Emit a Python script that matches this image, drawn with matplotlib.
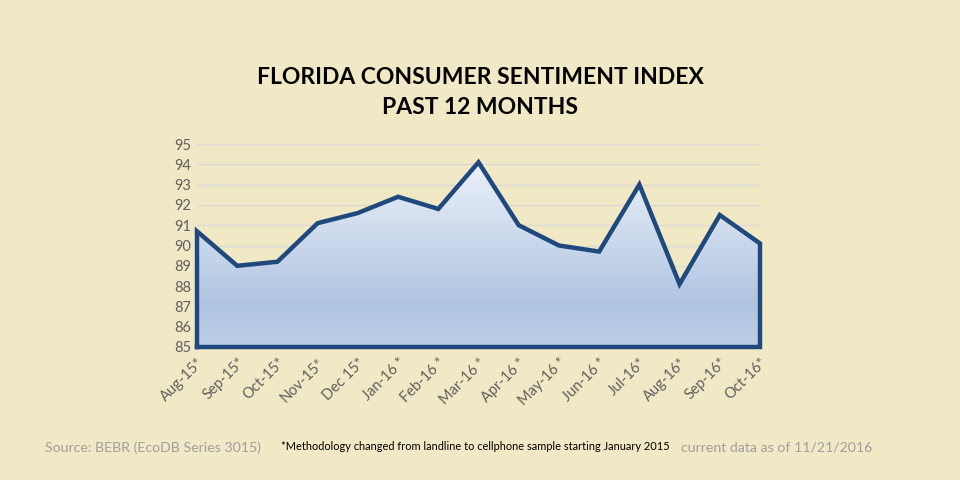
import matplotlib
matplotlib.use("Agg")
import matplotlib.pyplot as plt
import numpy as np
from matplotlib.colors import LinearSegmentedColormap
from matplotlib.patches import Polygon

months = ["Aug-15*", "Sep-15*", "Oct-15*", "Nov-15*", "Dec 15*", "Jan-16 *", "Feb-16 *",
          "Mar-16 *", "Apr-16 *", "May-16 *", "Jun-16 *", "Jul-16*", "Aug-16*", "Sep-16*", "Oct-16*"]
values = [90.7, 89.0, 89.2, 91.1, 91.6, 92.4, 91.8, 94.1, 91.0, 90.0, 89.7, 93.0, 88.1, 91.5, 90.1]
yticks = list(range(85, 96))

bg = "#F1E8C5"
line_color = "#1F497D"

plt.rcParams['font.family'] = ['Lato', 'DejaVu Sans']

fig = plt.figure(figsize=(9.6, 4.8), dpi=100, facecolor=bg)
ax = fig.add_axes([197/960, 1-347/480, (760-197)/960, (347-144)/480])
ax.set_facecolor(bg)

x = np.arange(len(values))
ax.set_xlim(0, len(values) - 1)
ax.set_ylim(85, 95)

# gradient fill
cmap = LinearSegmentedColormap.from_list("g", [(0.0, "#BDD0E8"), (0.2, "#AFC4E1"), (1.0, "#F3F6FC")])
grad = np.linspace(0, 1, 256).reshape(-1, 1)
im = ax.imshow(grad, aspect='auto', cmap=cmap, origin='lower',
               extent=[0, len(values) - 1, 85, 95], zorder=1)
verts = [(0, 85)] + list(zip(x, values)) + [(len(values) - 1, 85)]
poly = Polygon(verts, closed=True, facecolor='none', edgecolor='none', transform=ax.transData)
ax.add_patch(poly)
im.set_clip_path(poly)

ax.grid(axis='y', color='#D9D9D9', linewidth=1, zorder=0)
ax.set_axisbelow(True)
ax.plot(np.concatenate([[0], x, [len(values) - 1], [0]]),
        np.concatenate([[85], values, [85], [85]]),
        color=line_color, linewidth=3.2, solid_joinstyle='miter', zorder=3, clip_on=False)

for s in ax.spines.values():
    s.set_visible(False)
ax.set_yticks(yticks)
ax.set_yticklabels([str(t) for t in yticks], fontsize=10.5, color='#606060')
ax.set_xticks(x)
ax.set_xticklabels(months, rotation=45, ha='right', rotation_mode='anchor',
                   fontsize=10.5, color='#606060')
ax.tick_params(length=0, pad=4)
ax.tick_params(axis='x', pad=6)

fig.text(0.5, 1-77/480, "FLORIDA CONSUMER SENTIMENT INDEX", ha='center', va='center',
         fontsize=16.5, fontweight='bold', color='black')
fig.text(0.5, 1-107/480, "PAST 12 MONTHS", ha='center', va='center',
         fontsize=16.5, fontweight='bold', color='black')

fig.text(45/960, 1-448/480, "Source: BEBR (EcoDB Series 3015)", ha='left', va='center',
         fontsize=10.2, color='#A0A0A0')
fig.text(281/960, 1-447/480, "*Methodology changed from landline to cellphone sample starting January 2015",
         ha='left', va='center', fontsize=7.95, color='black')
fig.text(681/960, 1-448/480, "current data as of 11/21/2016", ha='left', va='center',
         fontsize=10.2, color='#A0A0A0')

fig.savefig("out.png", dpi=100, facecolor=bg)
